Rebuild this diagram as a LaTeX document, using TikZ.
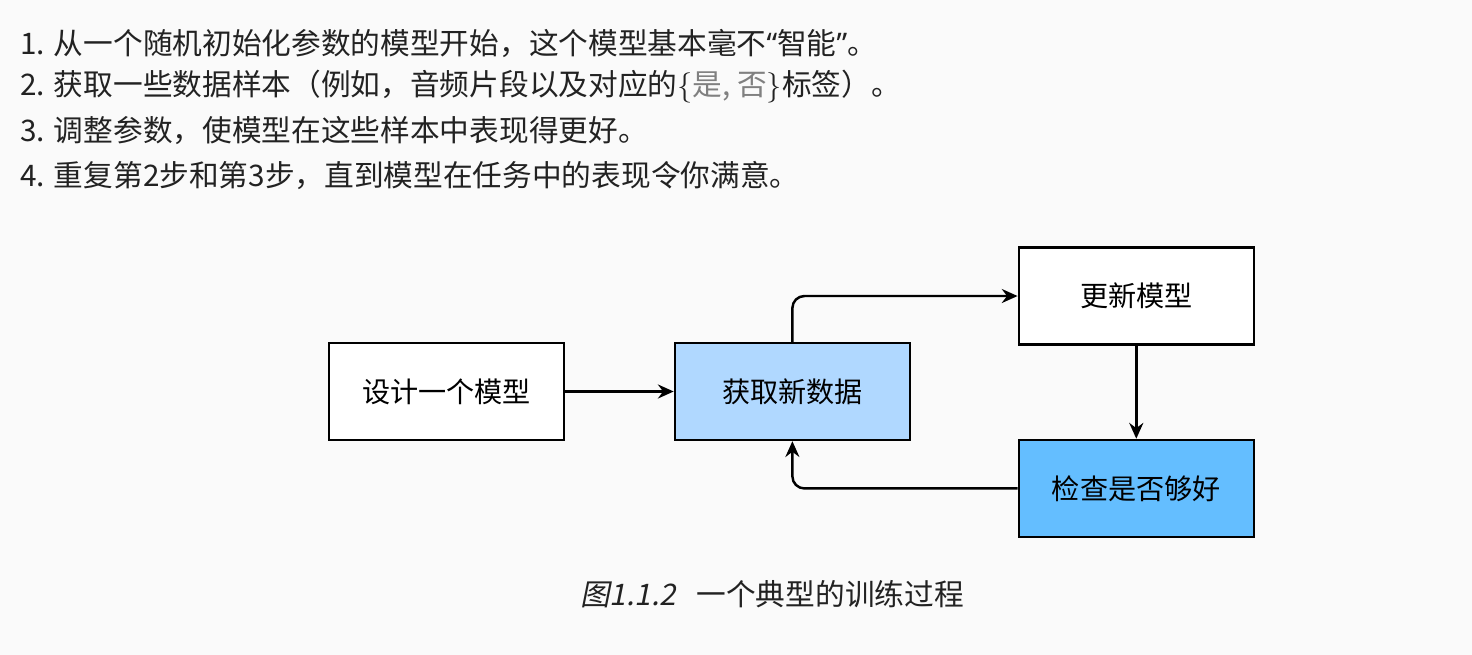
\documentclass[tikz,border=0pt]{standalone}
\usepackage{fontspec}
\usepackage{xcolor}
\usepackage{tikz}
\usetikzlibrary{arrows.meta, positioning}
\setmainfont{Noto Sans CJK SC}
\newfontfamily\cjk{Noto Sans CJK SC}
\newfontfamily\cjkslant[FakeSlant=0.2]{Noto Sans CJK SC}
\newfontfamily\latinq{Noto Sans}
\definecolor{pagegray}{RGB}{250,250,250}
\definecolor{textgray}{RGB}{34,34,34}
\definecolor{datablue}{RGB}{176,216,255}
\definecolor{checkblue}{RGB}{100,190,255}
\tikzset{
  step box/.style={
    draw, rectangle, minimum width=4.7cm, minimum height=1.94cm,
    fill=white, font=\cjk\fontsize{16}{19}\selectfont,
    line width=1.4pt, text=black
  },
  item/.style={anchor=west, inner sep=0pt, text=textgray,
    font=\cjk\fontsize{16.9}{20}\selectfont},
  arrow/.style={-{Stealth[length=9pt, width=8pt, inset=3pt]}, line width=1.4pt,
    rounded corners=0.24cm}
}

\begin{document}
\begin{tikzpicture}[x=0.02cm, y=-0.02cm]
  \useasboundingbox[fill=pagegray] (0,0) rectangle (1472,655);

  % Steps list
  \node[item] (s1) at (20,43)  {1. 从一个随机初始化参数的模型开始，这个模型基本毫不{\latinq “}智能{\latinq ”}。};
  \node[item] (s2) at (20,87)  {2. 获取一些数据样本（例如，音频片段以及对应的$\{$\textcolor{gray}{是, 否}$\}$标签）。};
  \node[item] (s3) at (20,131) {3. 调整参数，使模型在这些样本中表现得更好。};
  \node[item] (s4) at (20,175) {4. 重复第2步和第3步，直到模型在任务中的表现令你满意。};

  % Training loop
  \node[step box] (design) at (446.5,391.5) {设计一个模型};
  \node[step box, fill=datablue, right=2.17cm of design] (data) {获取新数据};
  \node[step box, right=2.13cm of data, yshift=1.91cm] (update) {更新模型};
  \node[step box, fill=checkblue, below=1.86cm of update] (check) {检查是否够好};

  % Arrows
  \draw[arrow] (design.east) -- (data.west);
  \draw[arrow] (data.north) |- (update.west);
  \draw[arrow] (update.south) -- (check.north);
  \draw[arrow] (check.west) -| (data.south);

  % Caption
  \node[text=textgray, font=\fontsize{16.9}{20}\selectfont] (caption) at (772,594)
    {{\cjkslant 图1.1.2}\hspace{0.7em}一个典型的训练过程};
\end{tikzpicture}
\end{document}
